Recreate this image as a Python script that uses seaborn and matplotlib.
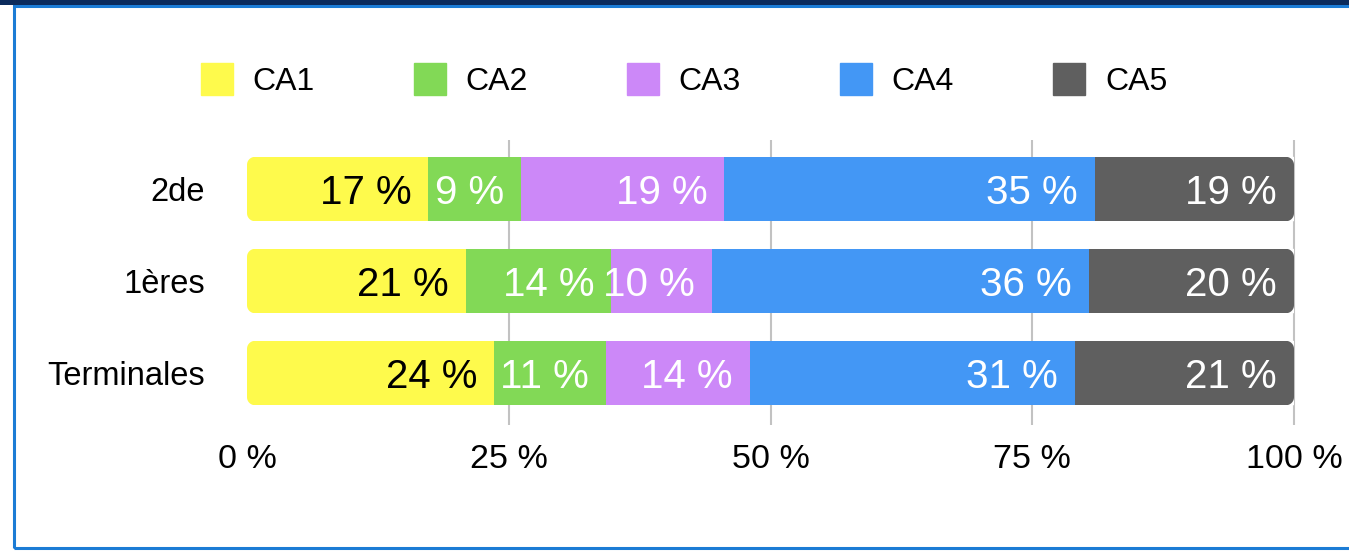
import matplotlib
matplotlib.use("Agg")
import matplotlib.pyplot as plt
from matplotlib.patches import PathPatch, Rectangle
from matplotlib.path import Path
from matplotlib.lines import Line2D
import seaborn as sns
import pandas as pd
import numpy as np

# ---- data ----
classes = ["2de", "1ères", "Terminales"]
series_names = ["CA1", "CA2", "CA3", "CA4", "CA5"]
ca1 = [17.3, 20.9, 23.6]
ca2 = [8.9, 13.9, 10.7]
ca3 = [19.4, 9.6, 13.7]
ca4 = [35.4, 36.0, 31.1]
ca5 = [19.0, 19.6, 20.9]
x_ticks = [0, 25, 50, 75, 100]
x_tick_labels = ["0 %", "25 %", "50 %", "75 %", "100 %"]

colors = ["#FEFA4C", "#82D956", "#CC88F8", "#4397F5", "#5F5F5F"]
label_colors = ["black", "white", "white", "white", "white"]

sns.set_theme(style="white")
plt.rcParams["font.family"] = ["Liberation Sans", "DejaVu Sans"]

df = pd.DataFrame({"classe": classes, "CA1": ca1, "CA2": ca2, "CA3": ca3,
                   "CA4": ca4, "CA5": ca5})
cum = df[series_names].cumsum(axis=1)

W, H = 1349, 554
fig = plt.figure(figsize=(W / 100, H / 100), dpi=100)
fig.patch.set_facecolor("white")
ax = fig.add_axes([247 / W, 1 - 425 / H, (1294 - 247) / W, (425 - 140) / H])

BAR_W = 0.70

# stacked bars: draw cumulative layers from the full bar down to the first
for i in range(len(series_names) - 1, -1, -1):
    name = series_names[i]
    d = pd.DataFrame({"classe": classes, "val": cum[name].values})
    sns.barplot(data=d, x="val", y="classe", orient="h", color=colors[i],
                width=BAR_W, ax=ax, saturation=1, linewidth=0, zorder=3)

ax.set_xlim(0, 100)
ax.set_ylim(2.565, -0.533)

# gridlines underneath the bars
ax.vlines(x_ticks[1:], -0.533, 2.565, colors="#C2C2C2", linewidth=1.5,
          zorder=1, clip_on=False)

# rounded corners: white masks over the four corners of each row
rx = 8 / ((1294 - 247) / 100)
ry = 8 / 92
t = np.linspace(0, np.pi / 2, 12)
for j in range(len(classes)):
    y_top, y_bot = j - BAR_W / 2, j + BAR_W / 2
    for (cx, sx) in ((0, 1), (100, -1)):
        for (cy, sy) in ((y_top, 1), (y_bot, -1)):
            ax_c, ay_c = cx + sx * rx, cy + sy * ry
            arc = np.column_stack([ax_c - sx * rx * np.cos(t),
                                   ay_c - sy * ry * np.sin(t)])
            verts = np.vstack([[cx, cy], arc, [cx, cy]])
            ax.add_patch(PathPatch(Path(verts), facecolor="white",
                                   edgecolor="none", zorder=4))

# value labels
for i, name in enumerate(series_names):
    for j in range(len(classes)):
        v = df[name].iloc[j]
        end = cum[name].iloc[j]
        ax.text(end - 17 / 10.47, j, f"{int(round(v))} %", ha="right",
                va="center_baseline", fontsize=29, color=label_colors[i],
                zorder=5)

ax.set_xticks(x_ticks)
ax.set_xticklabels(x_tick_labels, fontsize=24.5, color="black")
ax.tick_params(axis="x", length=0, pad=14, labelcolor="black")
ax.tick_params(axis="y", length=0, pad=30, labelsize=23.5, labelcolor="black")
ax.set_xlabel("")
ax.set_ylabel("")
for s in ax.spines.values():
    s.set_visible(False)
ax.grid(False)

# legend
handles = [Line2D([0], [0], marker="s", linestyle="none", markersize=23,
                  markerfacecolor=c, markeredgecolor=c) for c in colors]
fig.legend(handles, series_names, loc="center", ncol=5,
           bbox_to_anchor=(684 / W, 1 - 82 / H), frameon=False, fontsize=23,
           handlelength=1.0, handletextpad=0.62, columnspacing=3.1,
           borderpad=0, labelcolor="black")

# frame around the picture
fig.patches.append(Rectangle((14 / W, 1 - 548 / H), 2, (548 - 6) / H,
                             transform=fig.transFigure, fill=False,
                             edgecolor="#1C7CD5", linewidth=2.2))
fig.patches.append(Rectangle((0, 1 - 5 / H), 1, 5 / H, transform=fig.transFigure,
                             facecolor="#0B2B5C", edgecolor="none"))

fig.savefig("out.png", dpi=100)
